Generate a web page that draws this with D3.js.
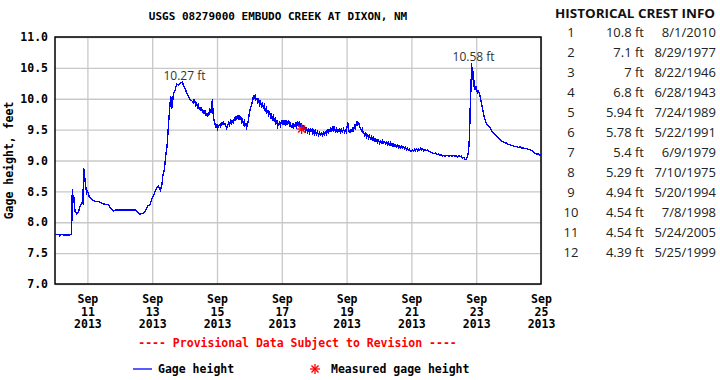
<!DOCTYPE html>
<html>
<head>
<meta charset="utf-8">
<script src="https://cdn.jsdelivr.net/npm/d3@7"></script>
<style>
body { margin: 0; background: #fff; }
.mono { font-family: "DejaVu Sans Mono", monospace; font-weight: bold; font-size: 11.5px; fill: #000; }
.crest { font-family: "Open Sans", sans-serif; font-size: 13px; fill: #222; }
</style>
</head>
<body>
<div id="chart"></div>
<script>
var startDay = Date.UTC(2013, 8, 10);
var endDay = Date.UTC(2013, 8, 25);
var tickDays = [11, 13, 15, 17, 19, 21, 23, 25];
var yTicks = [7.0, 7.5, 8.0, 8.5, 9.0, 9.5, 10.0, 10.5, 11.0];

// hours after Sep 10 00:00 UTC, gage height in feet
var gageHours = [0, 3, 3.5, 4.5, 9, 12.3, 12.8, 13.3, 13.8, 14.8, 16, 17.3, 18.5, 19.8, 20.7, 21.2, 21.7, 22.7, 23.5, 24.2,
    25.2, 27.2, 29.6, 32.1, 34.6, 37, 39.5, 41.5, 43.2, 44.9, 49.4, 54.3, 59.3, 61.2, 63, 65.4, 67.2, 68.6, 70.4, 71.6,
    72.8, 74.1, 75.3, 76.5, 78, 79, 80, 81, 82, 83, 84, 85, 85.7, 86.4, 87.2, 87.9, 88.9, 90.1, 91.4, 92.6,
    94.4, 95, 96.3, 97.5, 98.8, 100, 101.2, 102.5, 103, 103.7, 104.3, 104.9, 105.5, 106.2, 107, 107.4, 108, 108.6, 109.3, 109.9,
    110.5, 111.1, 111.8, 112.3, 113, 113.6, 114.2, 114.8, 115.5, 116, 116.6, 117, 117.4, 118, 118.6, 119.3, 120, 120.5, 121.3, 122.2,
    122.8, 123.5, 124, 124.7, 125.3, 125.9, 126.6, 127.2, 127.9, 128.6, 129.2, 130, 130.6, 131.3, 132, 132.8, 133.4, 134, 134.6, 135.2,
    135.8, 136.4, 137, 137.6, 138.3, 139, 139.5, 140.2, 140.7, 141.4, 142, 142.6, 143.2, 144, 144.8, 145.7, 146.5, 147, 147.6, 148.3,
    148.9, 149.6, 150.3, 150.9, 151.6, 152.3, 153, 153.7, 154.3, 155, 155.7, 156.4, 157, 157.7, 158.4, 159, 159.7, 160.4, 161, 161.7,
    162.4, 163, 163.7, 164.4, 165, 165.7, 166.4, 167, 167.7, 168.4, 169, 169.7, 170.4, 171, 171.7, 172.4, 173, 173.7, 174.4, 175,
    175.7, 176.4, 177, 177.7, 178.4, 179, 179.7, 180.4, 181, 181.7, 182.4, 183, 183.7, 184.4, 185, 185.7, 186.4, 187, 187.7, 188.4,
    189, 189.7, 190.4, 191, 191.7, 192.4, 193, 193.8, 194.5, 195.2, 196, 196.7, 197.4, 198.1, 198.8, 199.5, 200.2, 200.9, 201.6, 202.3,
    203, 203.7, 204.4, 205, 205.7, 206.4, 207, 207.7, 208.4, 209, 209.7, 210.4, 211, 211.7, 212.4, 213, 213.7, 214.4, 215, 215.7,
    216.3, 216.8, 217.3, 217.9, 218.5, 219.2, 219.9, 220.5, 221.2, 221.9, 222.5, 223.2, 223.8, 224.4, 225, 225.6, 226.3, 227, 227.6, 228.3,
    229, 229.6, 230.3, 231, 231.7, 232.3, 233, 233.7, 234.4, 235, 235.7, 236.4, 237, 237.7, 238.4, 239, 239.7, 240.4, 241, 241.7,
    242.4, 243, 243.7, 244.4, 245, 245.7, 246.4, 247, 247.7, 248.4, 249, 249.7, 250.4, 251, 251.8, 252.5, 253.2, 254, 254.7, 255.4,
    256, 256.8, 257.5, 258.2, 259, 259.7, 260.4, 261, 261.7, 262.4, 263, 264.2, 265, 265.7, 266.4, 267, 268, 268.7, 269.4, 270.2,
    271, 271.6, 272.4, 273, 274, 275, 276, 277, 278, 279, 280, 281, 282, 283, 284, 285, 286, 287, 288, 289,
    290, 291, 292, 293, 294, 295, 296, 297, 298, 299, 300, 301, 302, 303, 303.5, 304.4, 305, 305.7, 306.3, 306.9,
    307.3, 307.6, 308.1, 308.6, 309, 309.4, 309.9, 310.3, 310.6, 311.1, 311.6, 312.2, 312.8, 313.5, 314.3, 315.3, 316, 316.8, 317.6, 318.5,
    319.3, 320.2, 321.2, 322.2, 323.4, 324.7, 326, 327.1, 328.3, 329.6, 330.8, 332.1, 333.3, 334.5, 335.8, 337, 338.2, 339.5, 340.7, 342,
    343.2, 344.4, 345.7, 346.9, 348.1, 349.4, 350.6, 351.8, 353, 354.3, 355.5, 356.8, 358, 359, 360];
var gageFeet = [7.80, 7.80, 7.78, 7.80, 7.79, 7.80, 8.53, 8.31, 8.44, 8.18, 8.14, 8.16, 8.26, 8.31, 8.30, 8.88, 8.80, 8.58, 8.47, 8.50,
    8.42, 8.37, 8.34, 8.34, 8.31, 8.29, 8.29, 8.22, 8.18, 8.20, 8.20, 8.20, 8.20, 8.16, 8.13, 8.15, 8.19, 8.26, 8.29, 8.37,
    8.42, 8.50, 8.56, 8.58, 8.52, 8.58, 8.77, 8.85, 9.07, 9.23, 9.56, 9.86, 10.05, 9.83, 9.97, 10.10, 10.13, 10.24, 10.22, 10.25,
    10.27, 10.22, 10.17, 10.10, 10.04, 9.99, 9.97, 9.94, 9.99, 9.95, 9.90, 9.93, 9.86, 9.90, 9.82, 9.86, 9.80, 9.86, 9.77, 9.82,
    9.76, 9.81, 9.72, 9.77, 9.70, 9.78, 9.74, 9.82, 9.78, 9.84, 10.00, 9.80, 9.70, 9.63, 9.58, 9.54, 9.58, 9.52, 9.57, 9.59,
    9.55, 9.62, 9.57, 9.64, 9.58, 9.60, 9.55, 9.52, 9.56, 9.61, 9.57, 9.63, 9.58, 9.66, 9.61, 9.68, 9.64, 9.72, 9.66, 9.73,
    9.69, 9.74, 9.66, 9.70, 9.63, 9.66, 9.59, 9.63, 9.57, 9.60, 9.54, 9.58, 9.64, 9.78, 9.86, 9.90, 9.98, 10.06, 10.02, 10.05,
    9.98, 10.00, 9.94, 9.98, 9.91, 9.95, 9.88, 9.92, 9.86, 9.89, 9.81, 9.85, 9.78, 9.81, 9.74, 9.78, 9.70, 9.74, 9.67, 9.71,
    9.64, 9.68, 9.60, 9.64, 9.55, 9.59, 9.62, 9.57, 9.63, 9.58, 9.65, 9.59, 9.64, 9.58, 9.63, 9.60, 9.66, 9.57, 9.60, 9.54,
    9.58, 9.53, 9.59, 9.55, 9.62, 9.56, 9.61, 9.54, 9.63, 9.55, 9.60, 9.52, 9.56, 9.50, 9.55, 9.48, 9.52, 9.46, 9.50, 9.45,
    9.51, 9.47, 9.50, 9.44, 9.49, 9.43, 9.47, 9.42, 9.46, 9.41, 9.45, 9.42, 9.44, 9.41, 9.45, 9.42, 9.46, 9.43, 9.49, 9.45,
    9.50, 9.47, 9.52, 9.48, 9.56, 9.50, 9.53, 9.47, 9.51, 9.46, 9.50, 9.47, 9.51, 9.46, 9.50, 9.47, 9.51, 9.46, 9.50, 9.47,
    9.54, 9.62, 9.52, 9.47, 9.45, 9.50, 9.47, 9.52, 9.49, 9.56, 9.53, 9.59, 9.64, 9.58, 9.61, 9.55, 9.52, 9.48, 9.51, 9.45,
    9.43, 9.40, 9.44, 9.38, 9.41, 9.36, 9.40, 9.35, 9.38, 9.33, 9.37, 9.32, 9.35, 9.31, 9.34, 9.30, 9.33, 9.28, 9.32, 9.29,
    9.32, 9.28, 9.31, 9.30, 9.27, 9.30, 9.26, 9.29, 9.25, 9.28, 9.24, 9.27, 9.23, 9.26, 9.23, 9.25, 9.22, 9.25, 9.21, 9.24,
    9.21, 9.23, 9.20, 9.22, 9.19, 9.21, 9.18, 9.20, 9.17, 9.19, 9.16, 9.15, 9.17, 9.15, 9.18, 9.16, 9.19, 9.16, 9.19, 9.17,
    9.20, 9.17, 9.19, 9.16, 9.18, 9.16, 9.17, 9.15, 9.14, 9.13, 9.12, 9.11, 9.12, 9.09, 9.10, 9.08, 9.09, 9.07, 9.08, 9.07,
    9.08, 9.08, 9.07, 9.08, 9.06, 9.08, 9.07, 9.08, 9.06, 9.08, 9.06, 9.07, 9.04, 9.05, 9.02, 9.01, 9.04, 9.08, 9.15, 9.34,
    9.60, 9.88, 10.15, 10.58, 10.42, 10.50, 10.26, 10.30, 10.15, 10.20, 10.16, 10.18, 10.10, 10.13, 10.09, 9.99, 9.92, 9.83, 9.74, 9.66,
    9.62, 9.58, 9.55, 9.53, 9.48, 9.45, 9.42, 9.40, 9.37, 9.34, 9.32, 9.30, 9.29, 9.28, 9.26, 9.26, 9.24, 9.24, 9.22, 9.23,
    9.21, 9.22, 9.20, 9.21, 9.19, 9.19, 9.18, 9.18, 9.16, 9.15, 9.12, 9.10, 9.11, 9.08, 9.09];

// field measurement
var measuredHours = [182.7];
var measuredFeet = [9.51];

// crest labels on the plot
var peakHours = [94.4, 308.6];
var peakFeet = [10.27, 10.58];

// historical crest table
var crestRank = [1, 2, 3, 4, 5, 6, 7, 8, 9, 10, 11, 12];
var crestFeet = ["10.8", "7.1", "7", "6.8", "5.94", "5.78", "5.4", "5.29", "4.94", "4.54", "4.54", "4.39"];
var crestDates = ["8/1/2010", "8/29/1977", "8/22/1946", "6/28/1943", "7/24/1989", "5/22/1991",
    "6/9/1979", "7/10/1975", "5/20/1994", "7/8/1998", "5/24/2005", "5/25/1999"];

var W = 720, H = 380;
var plot = { left: 55, right: 541, top: 37, bottom: 284 };

var svg = d3.select("#chart").append("svg")
    .attr("width", W)
    .attr("height", H);

var hourToDate = function (h) { return new Date(startDay + h * 3600e3); };

var x = d3.scaleUtc()
    .domain([new Date(startDay), new Date(endDay)])
    .range([plot.left, plot.right]);
var y = d3.scaleLinear()
    .domain([7, 11])
    .range([plot.bottom, plot.top]);

var tickDates = tickDays.map(function (d) { return new Date(Date.UTC(2013, 8, d)); });

/////////////////////////////////////////////////
////////////////// grid + frame /////////////////
/////////////////////////////////////////////////
var gridX = svg.append("g")
    .attr("transform", "translate(0," + plot.bottom + ")")
    .call(d3.axisBottom(x).tickValues(tickDates).tickSize(-(plot.bottom - plot.top)).tickFormat(""));
var gridY = svg.append("g")
    .attr("transform", "translate(" + plot.left + ",0)")
    .call(d3.axisLeft(y).tickValues(yTicks).tickSize(-(plot.right - plot.left)).tickFormat(""));
[gridX, gridY].forEach(function (g) {
    g.select(".domain").remove();
    g.selectAll("line").attr("stroke", "#c8c8c8").attr("stroke-width", 1.3);
});

svg.append("rect")
    .attr("x", plot.left)
    .attr("y", plot.top)
    .attr("width", plot.right - plot.left)
    .attr("height", plot.bottom - plot.top)
    .attr("fill", "none")
    .attr("stroke", "#000")
    .attr("stroke-width", 1.5);

/////////////////////////////////////////////////
////////////////// axis labels //////////////////
/////////////////////////////////////////////////
var xAxis = svg.append("g")
    .attr("transform", "translate(0," + plot.bottom + ")")
    .call(d3.axisBottom(x).tickValues(tickDates).tickSize(0).tickFormat(""));
xAxis.select(".domain").remove();
xAxis.selectAll(".tick").each(function (d) {
    var t = d3.select(this).append("text")
        .attr("class", "mono")
        .attr("text-anchor", "middle")
        .attr("y", 19);
    var lines = [d3.utcFormat("%b")(d), d3.utcFormat("%d")(d), d3.utcFormat("%Y")(d)];
    lines.forEach(function (s, i) {
        t.append("tspan").attr("x", 0).attr("dy", i === 0 ? 0 : 12.7).text(s);
    });
});

var yAxis = svg.append("g")
    .attr("transform", "translate(" + plot.left + ",0)")
    .call(d3.axisLeft(y).tickValues(yTicks).tickSize(0).tickPadding(7).tickFormat(d3.format(".1f")));
yAxis.select(".domain").remove();
yAxis.selectAll("text")
    .attr("class", "mono")
    .attr("fill", null);

svg.append("text")
    .attr("class", "mono")
    .attr("text-anchor", "middle")
    .attr("transform", "translate(13," + ((plot.top + plot.bottom) / 2) + ") rotate(-90)")
    .text("Gage height, feet");

svg.append("text")
    .attr("class", "mono")
    .attr("text-anchor", "middle")
    .attr("x", 278)
    .attr("y", 20)
    .style("font-size", "11px")
    .text("USGS 08279000 EMBUDO CREEK AT DIXON, NM");

svg.append("text")
    .attr("class", "mono")
    .attr("text-anchor", "middle")
    .attr("x", 297.5)
    .attr("y", 347)
    .style("fill", "#ff0000")
    .text("---- Provisional Data Subject to Revision ----");

/////////////////////////////////////////////////
/////////////////// the series //////////////////
/////////////////////////////////////////////////
var series = gageHours.map(function (h, i) { return { t: hourToDate(h), v: gageFeet[i] }; });

svg.append("path")
    .datum(series)
    .attr("fill", "none")
    .attr("stroke", "#0000ff")
    .attr("stroke-width", 1.4)
    .attr("shape-rendering", "crispEdges")
    .attr("d", d3.line().x(function (d) { return x(d.t); }).y(function (d) { return y(d.v); }));

// red asterisk marker (8 spokes)
function asterisk(g, cx, cy, r) {
    var a = g.append("g").attr("stroke", "#ff0000").attr("stroke-width", 1.3);
    [0, 45, 90, 135].forEach(function (deg) {
        var rad = deg * Math.PI / 180;
        a.append("line")
            .attr("x1", cx - r * Math.cos(rad)).attr("y1", cy - r * Math.sin(rad))
            .attr("x2", cx + r * Math.cos(rad)).attr("y2", cy + r * Math.sin(rad));
    });
}
measuredHours.forEach(function (h, i) {
    asterisk(svg, x(hourToDate(h)), y(measuredFeet[i]), 5);
});

// crest annotations
peakHours.forEach(function (h, i) {
    svg.append("text")
        .attr("class", "crest")
        .attr("text-anchor", "middle")
        .attr("x", x(hourToDate(h)) + 2)
        .attr("y", y(peakFeet[i]) - 2)
        .style("font-size", "12px")
        .style("fill", "#333")
        .text(peakFeet[i] + " ft");
});

/////////////////////////////////////////////////
///////////////////// legend ////////////////////
/////////////////////////////////////////////////
svg.append("line")
    .attr("x1", 133).attr("x2", 152)
    .attr("y1", 369).attr("y2", 369)
    .attr("stroke", "#0000ff")
    .attr("stroke-width", 1.3);
svg.append("text").attr("class", "mono").attr("x", 158).attr("y", 373).text("Gage height");
asterisk(svg, 315, 369, 5);
svg.append("text").attr("class", "mono").attr("x", 331).attr("y", 373).text("Measured gage height");

/////////////////////////////////////////////////
//////////////// crest info table ///////////////
/////////////////////////////////////////////////
svg.append("text")
    .attr("class", "crest")
    .attr("x", 555)
    .attr("y", 17.5)
    .style("font-weight", "bold")
    .style("fill", "#111")
    .attr("textLength", 160)
    .attr("lengthAdjust", "spacingAndGlyphs")
    .text("HISTORICAL CREST INFO");

var rowY = d3.scaleLinear().domain([1, 12]).range([36.7, 256.7]);
var rows = svg.append("g").selectAll("g")
    .data(crestRank)
    .enter()
    .append("g")
    .attr("transform", function (d) { return "translate(0," + rowY(d) + ")"; });
rows.append("text").attr("class", "crest").attr("x", 571).attr("text-anchor", "middle")
    .text(function (d) { return d; });
rows.append("text").attr("class", "crest").attr("x", 644).attr("text-anchor", "end")
    .text(function (d, i) { return crestFeet[i] + " ft"; });
rows.append("text").attr("class", "crest").attr("x", 716).attr("text-anchor", "end")
    .text(function (d, i) { return crestDates[i]; });
</script>
</body>
</html>
